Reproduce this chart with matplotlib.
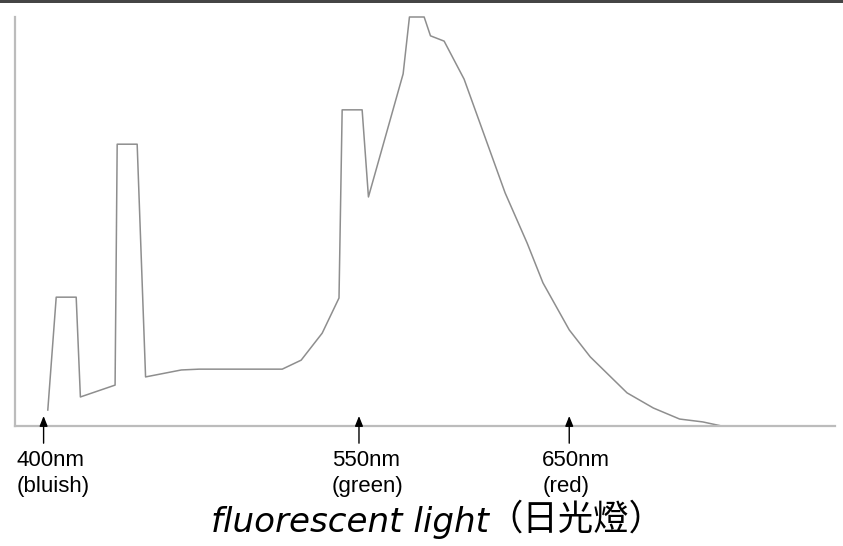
import matplotlib
matplotlib.use("Agg")
import matplotlib.pyplot as plt
from matplotlib.patches import Rectangle

# Emission spectrum of a fluorescent lamp (relative intensity, peak = 100)
wavelength_nm = [402, 406, 415.5, 417.5, 434, 435, 444.5, 448.5, 465.5, 474,
                 493, 513.5, 522.5, 532.5, 540.5, 542, 551.5, 554.5, 571, 574,
                 581, 584, 590.5, 600, 619.5, 630, 637.5, 650, 660, 677.5,
                 690, 702.5, 713.5, 722.5]
intensity = [3.9, 31.5, 31.5, 7.1, 10.0, 68.9, 68.9, 12.0, 13.7, 13.9,
             13.9, 13.9, 16.1, 22.7, 31.3, 77.3, 77.3, 56.0, 86.1, 100,
             100, 95.4, 94.1, 84.8, 57.0, 44.7, 35.0, 23.5, 16.9, 8.1,
             4.4, 1.7, 1.0, 0]

# Reference wavelengths pointed out below the axis
marker_nm = [400, 550, 650]
marker_names = ["bluish", "green", "red"]

title_latin = "fluorescent light"
title_cjk = "（日光燈）"

W, H = 843, 546
fig = plt.figure(figsize=(W / 100, H / 100), dpi=100)
fig.patch.set_facecolor("white")

# dark rule along the top edge
fig.patches.append(Rectangle((0, 1 - 2.5 / H), 1, 2.5 / H, transform=fig.transFigure,
                             facecolor="#454545", edgecolor="none"))

ax = fig.add_axes([15 / W, (H - 426) / H, (835 - 15) / W, (426 - 17) / H])
ax.plot(wavelength_nm, intensity, color="#8e8e8e", lw=1.1, clip_on=False)
ax.set_xlim(386.4, 776.4)
ax.set_ylim(0, 100)

for side in ("top", "right"):
    ax.spines[side].set_visible(False)
for side in ("left", "bottom"):
    ax.spines[side].set_color("#bcbcbc")
    ax.spines[side].set_linewidth(1.6)
ax.set_xticks([])
ax.set_yticks([])

for nm, name in zip(marker_nm, marker_names):
    ax.annotate("", xy=(nm, 2.44), xytext=(nm, -4.2),
                arrowprops=dict(arrowstyle="-|>,head_length=0.5,head_width=0.2",
                                color="black", lw=1.0, mutation_scale=12,
                                shrinkA=0, shrinkB=0),
                annotation_clip=False)
    ax.annotate(f"{nm}nm", xy=(nm, 0), xytext=(-27, -40), textcoords="offset pixels",
                ha="left", va="baseline", fontsize=16, family="Liberation Sans",
                annotation_clip=False)
    ax.annotate(f"({name})", xy=(nm, 0), xytext=(-27, -66), textcoords="offset pixels",
                ha="left", va="baseline", fontsize=16, family="Liberation Sans",
                annotation_clip=False)

# caption: italic Latin words followed by the Chinese name in an upright CJK face
base_y = (H - 532) / H
t1 = fig.text(211 / W, base_y, title_latin, ha="left", va="baseline",
              fontsize=24.6, style="italic", family="DejaVu Sans")
fig.canvas.draw()
x_end = t1.get_window_extent().x1
fig.text((x_end - 2) / W, base_y + 2 / H, title_cjk, ha="left", va="baseline",
         fontsize=25.5, family="Noto Sans CJK TC")

fig.savefig("out.png", dpi=100)
